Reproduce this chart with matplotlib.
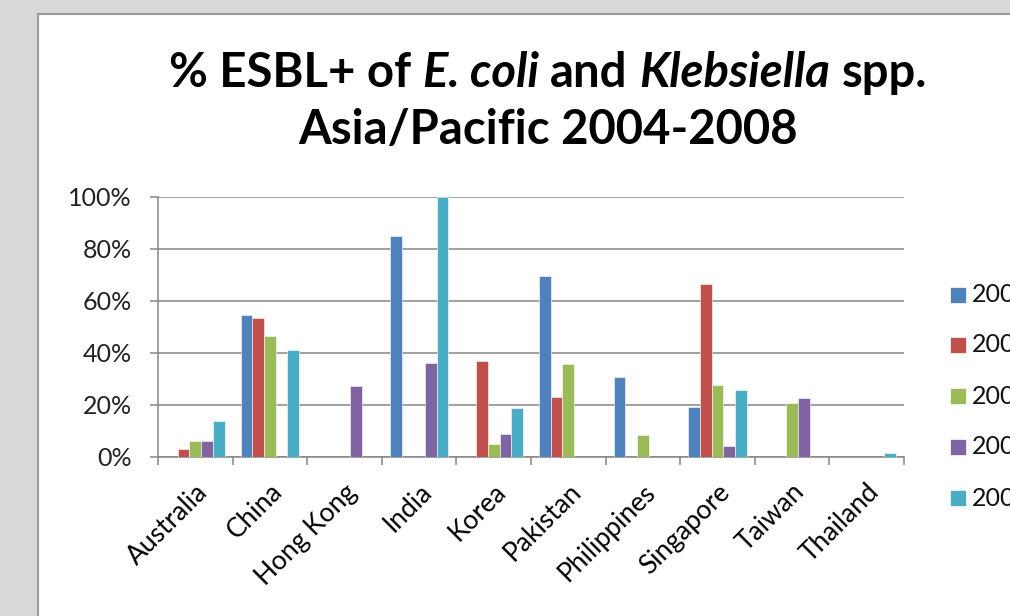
"""
Доля ESBL+ среди E. coli и Klebsiella spp., Азия/Тихий океан 2004-2008.
Столбцы по странам, по одному на год.
"""

import matplotlib
matplotlib.use("Agg")
import matplotlib.pyplot as plt
from matplotlib.patches import Rectangle
from matplotlib.ticker import PercentFormatter

countries = ["Australia", "China", "Hong Kong", "India", "Korea",
             "Pakistan", "Philippines", "Singapore", "Taiwan", "Thailand"]
years = ["2004", "2005", "2006", "2007", "2008"]

# % ESBL+, None = нет данных за год
y2004 = [None, 54.5, None, 84.9, None, 69.7, 30.8, 19.2, None, None]
y2005 = [3.2, 53.6, None, None, 36.8, 23.2, None, 66.7, None, None]
y2006 = [6.0, 46.4, None, None, 5.1, 35.9, 8.6, 27.8, 20.8, None]
y2007 = [6.0, None, 27.2, 36.3, 9.0, None, None, 4.1, 22.8, None]
y2008 = [13.7, 41.3, None, 100.0, 18.7, None, None, 25.8, None, 1.7]

colors = ["#4F81BD", "#C0504D", "#9BBB59", "#8064A2", "#4BACC6"]
GRID = "#868686"
FONT = "Lato"

W, H = 1010, 616
fig = plt.figure(figsize=(W / 100, H / 100), dpi=100, facecolor="#d9d9d9")

# белая область диаграммы с серой рамкой (обрезана краем слайда)
fig.patches.append(Rectangle((38 / W, -0.1), 1.2, 1 - 14 / H + 0.1,
                             transform=fig.transFigure, facecolor="white",
                             edgecolor="#9a9a9a", linewidth=1.5, zorder=-5))
# хвост буквы из заголовка слайда сверху
fig.text(515 / W, 1 + 0.026, "g", fontsize=20, family=FONT, style="italic",
         ha="center", va="baseline", color="black")

ax = fig.add_axes([158 / W, 1 - 457 / H, 746 / W, 260 / H])
ax.set_facecolor("none")

bw = 0.157
series = [y2004, y2005, y2006, y2007, y2008]
for i, (vals, c) in enumerate(zip(series, colors)):
    xs = [k + (i - 2) * bw for k, v in enumerate(vals) if v is not None]
    hs = [v for v in vals if v is not None]
    ax.bar(xs, hs, width=bw, color=c, edgecolor="white", linewidth=0.4,
           zorder=3, label=years[i])

ax.set_xlim(-0.5, len(countries) - 0.5)
ax.set_ylim(0, 100)
ax.set_yticks(range(0, 101, 20))
ax.yaxis.set_major_formatter(PercentFormatter(decimals=0))
ax.grid(axis="y", color=GRID, linewidth=1.1, zorder=1)
for s in ["top", "right"]:
    ax.spines[s].set_visible(False)
for s in ["left", "bottom"]:
    ax.spines[s].set_color(GRID)
    ax.spines[s].set_linewidth(1.1)

ax.set_xticks([k - 0.5 for k in range(len(countries) + 1)])
ax.set_xticklabels([])
ax.set_xticks(range(len(countries)), minor=True)
ax.set_xticklabels(countries, minor=True, rotation=45, ha="right",
                   va="top", rotation_mode="anchor", family=FONT, fontsize=19)
ax.tick_params(axis="x", which="major", length=6, color=GRID, width=1.1)
ax.tick_params(axis="x", which="minor", length=0, pad=16)
ax.tick_params(axis="y", length=6, color=GRID, width=1.1, pad=13,
               labelsize=18, labelcolor="#222222")
for t in ax.get_yticklabels():
    t.set_family(FONT)

# легенда справа, подписи обрезаны краем картинки
leg_y = [295, 345, 396, 447, 498]
for c, yr, py in zip(colors, years, leg_y):
    fig.patches.append(Rectangle((950 / W, 1 - (py + 8) / H), 16 / W, 16 / H,
                                 transform=fig.transFigure, facecolor=c,
                                 edgecolor="white", linewidth=0.5))
    fig.text(972 / W, 1 - py / H, yr, fontsize=18, family=FONT,
             ha="left", va="center", color="#111111")

# заголовок: смешанный bold / bold-italic, собираем по кускам
renderer = fig.canvas.get_renderer()


def rich_line(yc, pieces, size, cx=548):
    objs = []
    for txt, st in pieces:
        t = fig.text(0, yc / H, txt, fontsize=size, family=FONT,
                     weight="bold", style=st, ha="left", va="center")
        objs.append(t)
    sp = fig.text(0, 0, "a a", fontsize=size, family=FONT, weight="bold")
    aa = fig.text(0, 0, "aa", fontsize=size, family=FONT, weight="bold")
    gap = (sp.get_window_extent(renderer).width
           - aa.get_window_extent(renderer).width)
    sp.remove()
    aa.remove()
    widths = [o.get_window_extent(renderer).width for o in objs]
    total = sum(widths) + gap * (len(objs) - 1)
    x = cx - total / 2
    for o, w in zip(objs, widths):
        o.set_x(x / W)
        o.set_y(1 - yc / H)
        x += w + gap


rich_line(73, [("% ESBL+ of", "normal"), ("E. coli", "italic"),
               ("and", "normal"), ("Klebsiella", "italic"),
               ("spp.", "normal")], 34)
rich_line(130, [("Asia/Pacific 2004-2008", "normal")], 34)

fig.savefig("out.png", dpi=100, facecolor=fig.get_facecolor())
